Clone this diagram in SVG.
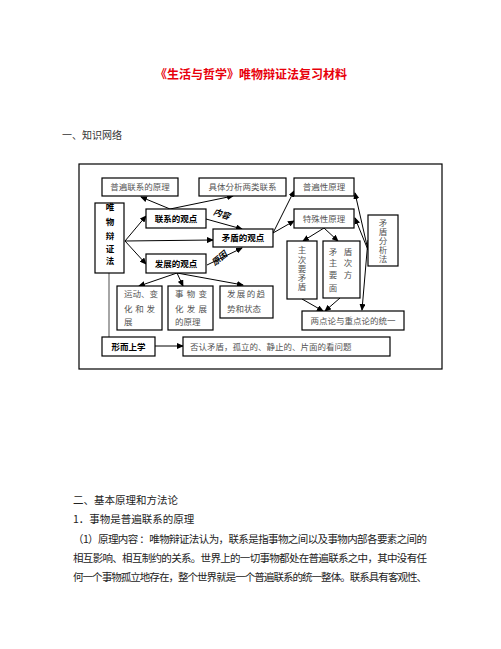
<svg xmlns="http://www.w3.org/2000/svg" width="501" height="649" viewBox="0 0 501 649">
<style>
.box{fill:#fff;stroke:#000;stroke-width:1.2}
.t{font-family:"Noto Sans CJK SC","Liberation Sans",sans-serif;font-size:8.5px;fill:#555}
.v{font-family:"Noto Sans CJK SC","Liberation Sans",sans-serif;font-size:8.5px;fill:#555;writing-mode:vertical-rl;text-orientation:upright}
.b{font-family:"Noto Sans CJK SC","Liberation Sans",sans-serif;font-size:8.5px;font-weight:bold;fill:#000}
.ln{stroke:#000;stroke-width:1;fill:none;marker-end:url(#ah)}
.body{font-family:"Noto Sans CJK SC","Liberation Sans",sans-serif;font-size:10.5px;fill:#222}
</style>
<defs>
<marker id="ah" markerWidth="7" markerHeight="6" refX="6" refY="3" orient="auto" markerUnits="userSpaceOnUse">
<path d="M0,0 L7,3 L0,6 Z" fill="#000"/>
</marker>
</defs>
<rect width="501" height="649" fill="#fff"/>
<text x="251" y="79" text-anchor="middle" font-family="Noto Sans CJK SC, sans-serif" font-size="12" font-weight="bold" fill="#e8000b">《生活与哲学》唯物辩证法复习材料</text>
<text x="62" y="139" font-family="Noto Sans CJK SC, sans-serif" font-size="10" fill="#333">一、知识网络</text>
<rect x="79" y="164" width="363" height="205" fill="none" stroke="#000" stroke-width="1.2"/>
<g id="connectors">
<path class="ln" d="M170,209 L141,197"/>
<path class="ln" d="M170,209 L233,196"/>
<path class="ln" d="M125,241 L146,216"/>
<path class="ln" d="M125,241 L213,240"/>
<path class="ln" d="M125,241 L146,264"/>
<path class="ln" d="M206,219 L242,229"/>
<path class="ln" d="M207,265 L242,248"/>
<path class="ln" d="M273,233 L294,191"/>
<path class="ln" d="M273,233 L294,221"/>
<path class="ln" d="M324,228 L303,241"/>
<path class="ln" d="M324,228 L338,241"/>
<path class="ln" d="M368,250 L355,193"/>
<path class="ln" d="M368,250 L355,218"/>
<path class="ln" d="M368,240 L362,310"/>
<path class="ln" d="M302,299 L323,311"/>
<path class="ln" d="M340,298 L325,311"/>
<path class="ln" d="M177,273 L139,286"/>
<path class="ln" d="M177,273 L183,286"/>
<path class="ln" d="M177,273 L243,285"/>
<path d="M109,273 L109,337" stroke="#888" stroke-width="1.5" fill="none"/>
<path class="ln" d="M155,346 L183,346"/>
<text x="213" y="216" class="b" font-size="6" font-style="italic" transform="rotate(18 218 214)">内容</text>
<text x="211" y="264" class="b" font-size="6" font-style="italic" transform="rotate(-40 216 260)">原因</text>
</g>
<g id="n1"><rect class="box" x="102" y="178" width="76" height="18"/><text class="t" x="140" y="190" text-anchor="middle">普遍联系的原理</text></g>
<g id="n2"><rect class="box" x="199" y="178" width="87" height="18"/><text class="t" x="242.5" y="190" text-anchor="middle">具体分析两类联系</text></g>
<g id="n3"><rect class="box" x="294" y="178" width="60" height="18"/><text class="t" x="324" y="190" text-anchor="middle">普遍性原理</text></g>
<g id="n4"><rect class="box" x="294" y="209" width="60" height="19"/><text class="t" x="324" y="221.5" text-anchor="middle">特殊性原理</text></g>
<g id="n5"><rect class="box" x="368" y="215" width="30" height="51"/>
<text class="v" x="383" y="219" letter-spacing="0.3">矛盾分析法</text></g>
<g id="n6"><rect class="box" x="95" y="203" width="29" height="70"/>
<text class="b" x="110" y="210" text-anchor="middle">唯</text><text class="b" x="110" y="225" text-anchor="middle">物</text><text class="b" x="110" y="239" text-anchor="middle">辩</text><text class="b" x="110" y="252" text-anchor="middle">证</text><text class="b" x="110" y="264" text-anchor="middle">法</text></g>
<g id="n7"><rect class="box" x="146" y="209" width="60" height="19"/><text class="b" x="176" y="221.5" text-anchor="middle">联系的观点</text></g>
<g id="n8"><rect class="box" x="213" y="229" width="60" height="18"/><text class="b" x="243" y="241" text-anchor="middle">矛盾的观点</text></g>
<g id="n9"><rect class="box" x="146" y="254" width="60" height="19"/><text class="b" x="176" y="266.5" text-anchor="middle">发展的观点</text></g>
<g id="n10"><rect class="box" x="117" y="286" width="45" height="44"/>
<text class="t" x="124" y="297">运动、变</text><text class="t" x="124" y="312" textLength="31">化和发</text><text class="t" x="124" y="325">展</text></g>
<g id="n11"><rect class="box" x="168" y="286" width="45" height="44"/>
<text class="t" x="175" y="297" textLength="32">事物变</text><text class="t" x="175" y="312" textLength="32">化发展</text><text class="t" x="175" y="325">的原理</text></g>
<g id="n12"><rect class="box" x="220" y="286" width="53" height="32"/>
<text class="t" x="227" y="297" textLength="38">发展的趋</text><text class="t" x="227" y="312">势和状态</text></g>
<g id="n13"><rect class="box" x="287" y="241" width="30" height="58"/>
<text class="v" x="302" y="246" letter-spacing="0.6">主次要矛盾</text></g>
<g id="n14"><rect class="box" x="323" y="241" width="37" height="57"/>
<text class="t" x="333" y="255" text-anchor="middle">矛</text><text class="t" x="348" y="255" text-anchor="middle">盾</text>
<text class="t" x="333" y="266" text-anchor="middle">主</text><text class="t" x="348" y="266" text-anchor="middle">次</text>
<text class="t" x="333" y="278" text-anchor="middle">要</text><text class="t" x="348" y="278" text-anchor="middle">方</text>
<text class="t" x="333" y="291" text-anchor="middle">面</text></g>
<g id="n15"><rect class="box" x="302" y="311" width="102" height="19"/><text class="t" x="353" y="323.5" text-anchor="middle">两点论与重点论的统一</text></g>
<g id="n16"><rect class="box" x="102" y="337" width="53" height="19"/><text class="b" x="128.5" y="349.5" text-anchor="middle">形而上学</text></g>
<g id="n17"><rect class="box" x="183" y="337" width="207" height="19"/><text class="t" x="190" y="349.5">否认矛盾，孤立的、静止的、片面的看问题</text></g>
<text class="body" x="73" y="504">二、基本原理和方法论</text>
<text class="body" x="73" y="523">1．事物是普遍联系的原理</text>
<text class="body" x="73" y="543" textLength="354">（1）原理内容 ：唯物辩证法认为，联系是指事物之间以及事物内部各要素之间的</text>
<text class="body" x="73" y="562" textLength="354">相互影响、相互制约的关系。世界上的一切事物都处在普遍联系之中，其中没有任</text>
<text class="body" x="73" y="581" textLength="354">何一个事物孤立地存在，整个世界就是一个普遍联系的统一整体。联系具有客观性、</text>
</svg>
